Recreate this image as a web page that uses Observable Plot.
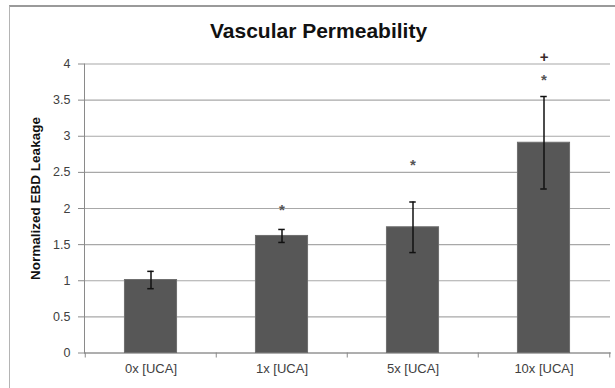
<!DOCTYPE html>
<html>
<head>
<meta charset="utf-8">
<script src="https://cdn.jsdelivr.net/npm/d3@7"></script>
<script src="https://cdn.jsdelivr.net/npm/@observablehq/plot@0.6"></script>
<style>
  html, body { margin: 0; padding: 0; background: #fff; }
  #wrap { position: relative; width: 615px; height: 388px; overflow: hidden; }
  #border { position: absolute; left: 9px; top: 5px; right: -10px; bottom: -10px;
            border-top: 2px solid #9a9a9a; border-left: 1px solid #b4b4b4; pointer-events: none; }
  svg { position: absolute; left: 0; top: 0; }
</style>
</head>
<body>
<div id="wrap"><div id="border"></div></div>
<script>
// Vascular permeability: normalized Evans blue dye leakage by UCA dose
const title = "Vascular Permeability";
const yLabel = "Normalized EBD Leakage";
const categories = ["0x [UCA]", "1x [UCA]", "5x [UCA]", "10x [UCA]"];
const means = [1.01, 1.62, 1.74, 2.91];
const errors = [0.12, 0.09, 0.35, 0.64];
const yTicks = [0, 0.5, 1, 1.5, 2, 2.5, 3, 3.5, 4];

// significance markers above the bars
const markCategories = ["1x [UCA]", "5x [UCA]", "10x [UCA]", "10x [UCA]"];
const markSymbols = ["*", "*", "*", "+"];
const markValues = [2.03, 2.65, 3.83, 4.09];

const bars = categories.map((c, i) => ({category: c, mean: means[i], lo: means[i] - errors[i], hi: means[i] + errors[i]}));
const marks = markCategories.map((c, i) => ({category: c, symbol: markSymbols[i], value: markValues[i]}));

const width = 615, height = 388;
const marginLeft = 84, marginRight = 5, marginTop = 63.5, marginBottom = 35.5;
const step = (width - marginLeft - marginRight) / categories.length;
const barInset = step * 0.3;
const capInset = (step - 7) / 2;
const font = "'Liberation Sans', Arial, sans-serif";

const chart = Plot.plot({
  width, height, marginLeft, marginRight, marginTop, marginBottom,
  style: {fontFamily: font, background: "transparent", overflow: "visible"},
  x: {domain: categories, padding: 0, axis: null},
  y: {domain: [0, 4], axis: null},
  marks: [
    Plot.gridY(yTicks, {stroke: "#a8a8a8", strokeOpacity: 1, strokeWidth: 1.2}),
    Plot.axisY({ticks: yTicks, tickSize: 6, tickPadding: 8, tickFormat: d => String(d),
                stroke: "#8a8a8a", fill: "#404040", fontSize: 12.5, label: null}),
    Plot.frame({anchor: "left", stroke: "#8a8a8a"}),
    Plot.frame({anchor: "bottom", stroke: "#8a8a8a"}),
    // category boundary ticks below the axis
    Plot.ruleX(categories, {x: d => d, y1: () => 0, y2: () => 0, dx: -step / 2, insetBottom: -5, stroke: "#8a8a8a"}),
    Plot.ruleX(categories.slice(-1), {x: d => d, y1: () => 0, y2: () => 0, dx: step / 2, insetBottom: -5, stroke: "#8a8a8a"}),
    Plot.barY(bars, {x: "category", y: "mean", fill: "#575757", stroke: "#6e6e6e", strokeWidth: 1,
                     insetLeft: barInset, insetRight: barInset}),
    Plot.ruleX(bars, {x: "category", y1: "lo", y2: "hi", stroke: "#111", strokeWidth: 1.5}),
    Plot.tickY(bars, {x: "category", y: "hi", stroke: "#111", strokeWidth: 1.5, insetLeft: capInset, insetRight: capInset}),
    Plot.tickY(bars, {x: "category", y: "lo", stroke: "#111", strokeWidth: 1.5, insetLeft: capInset, insetRight: capInset}),
    Plot.text(marks.filter(d => d.symbol === "*"), {x: "category", y: "value", text: "symbol", fontSize: 15, fontWeight: "bold", fill: "#555", dy: 4}),
    Plot.text(marks.filter(d => d.symbol === "+"), {x: "category", y: "value", text: "symbol", fontSize: 15, fontWeight: "bold", fill: "#3a2a2a"}),
    Plot.text(categories, {x: d => d, frameAnchor: "bottom", dy: 20, fontSize: 13, fill: "#404040"}),
    Plot.text([yLabel], {frameAnchor: "left", textAnchor: "middle", rotate: -90, dx: -49, dy: -10, fontSize: 13.5, fontWeight: "bold", fill: "#111"}),
    Plot.text([title], {frameAnchor: "top", dx: -29, dy: -41, fontSize: 21, fontWeight: "bold", fill: "#111"})
  ]
});
document.getElementById("wrap").appendChild(chart);
</script>
</body>
</html>
